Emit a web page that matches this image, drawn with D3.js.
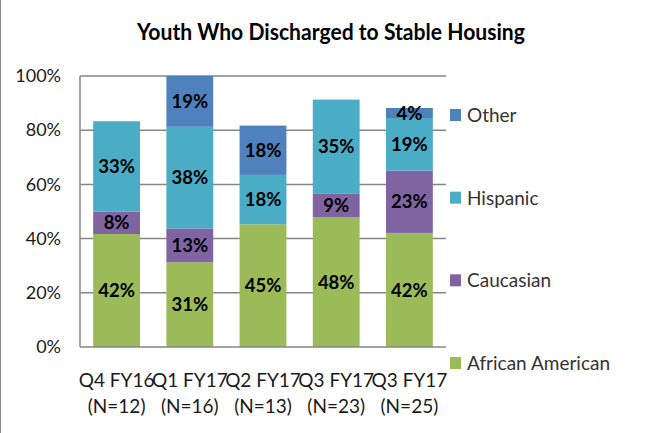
<!DOCTYPE html>
<html>
<head>
<meta charset="utf-8">
<script src="https://cdn.jsdelivr.net/npm/d3@7"></script>
<style>
  body { margin: 0; background: #fff; }
  svg { display: block; }
  text { font-family: Lato, "Open Sans", sans-serif; }
</style>
</head>
<body>
<svg id="chart" width="645" height="433"></svg>
<script>
// chart data
const categories = ["Q4 FY16", "Q1 FY17", "Q2 FY17", "Q3 FY17", "Q3 FY17"];
const nLabels = ["(N=12)", "(N=16)", "(N=13)", "(N=23)", "(N=25)"];
const seriesNames = ["African American", "Caucasian", "Hispanic", "Other"];
const africanAmerican = [41.7, 31.25, 45.3, 47.8, 42.1];
const caucasian = [8.3, 12.5, 0, 8.7, 23.0];
const hispanic = [33.3, 37.5, 18.2, 34.8, 19.4];
const other = [0, 18.75, 18.2, 0, 3.7];
const yTicks = [0, 20, 40, 60, 80, 100];

const colors = {
    "African American": "#9bbb59",
    "Caucasian": "#8064a2",
    "Hispanic": "#4bacc6",
    "Other": "#4f81bd"
};

const rows = categories.map((c, i) => ({
    idx: i,
    cat: c,
    "African American": africanAmerican[i],
    "Caucasian": caucasian[i],
    "Hispanic": hispanic[i],
    "Other": other[i]
}));

const svg = d3.select("#chart");
const plotLeft = 80, plotRight = 446, plotTop = 76, plotBottom = 347;

// the original font (Calibri) is narrower than Lato, squeeze some texts a bit
function condense(sel, factor) {
    sel.each(function() {
        const len = this.getComputedTextLength();
        d3.select(this)
            .attr("textLength", len * factor)
            .attr("lengthAdjust", "spacingAndGlyphs");
    });
}

// outer chart border (only the left edge shows in the picture)
svg.append("line")
    .attr("x1", 0.5).attr("x2", 0.5)
    .attr("y1", 0).attr("y2", 433)
    .attr("stroke", "#8c8c8c").attr("stroke-width", 1);

const title = svg.append("text")
    .attr("x", 331).attr("y", 40)
    .attr("text-anchor", "middle")
    .attr("font-size", "22px")
    .attr("font-weight", "bold")
    .attr("fill", "#000")
    .text("Youth Who Discharged to Stable Housing");
condense(title, 0.96);

const x = d3.scaleBand()
    .domain(d3.range(categories.length))
    .range([plotLeft, plotRight])
    .paddingInner(0.36)
    .paddingOuter(0.18);

const y = d3.scaleLinear().domain([0, 100]).range([plotBottom, plotTop]);

// gridlines
svg.append("g")
    .selectAll("line")
    .data(yTicks.filter(t => t > 0))
    .join("line")
    .attr("x1", plotLeft).attr("x2", plotRight)
    .attr("y1", d => y(d)).attr("y2", d => y(d))
    .attr("stroke", "#868686").attr("stroke-width", 1.5);

// y axis labels
const yAxis = svg.append("g")
    .attr("transform", `translate(${plotLeft},0)`)
    .call(d3.axisLeft(y).tickValues(yTicks).tickFormat(d => d + "%").tickSize(0).tickPadding(19));
yAxis.select(".domain").remove();
yAxis.selectAll("text")
    .attr("font-size", "18px")
    .attr("font-family", "Lato, sans-serif")
    .attr("fill", "#1a1a1a");

const stack = d3.stack().keys(seriesNames);
const stacked = stack(rows);

const layers = svg.append("g")
    .selectAll("g")
    .data(stacked)
    .join("g")
    .attr("fill", d => colors[d.key]);

layers.selectAll("rect")
    .data(d => d)
    .join("rect")
    .attr("x", d => x(d.data.idx))
    .attr("width", x.bandwidth())
    .attr("y", d => y(d[1]))
    .attr("height", d => y(d[0]) - y(d[1]));

// data labels
layers.selectAll("text")
    .data(d => d.filter(p => p[1] - p[0] > 0))
    .join("text")
    .attr("x", d => x(d.data.idx) + x.bandwidth() / 2)
    .attr("y", d => (y(d[0]) + y(d[1])) / 2)
    .attr("dy", "0.36em")
    .attr("text-anchor", "middle")
    .attr("font-size", "18.5px")
    .attr("font-weight", "bold")
    .attr("fill", "#000")
    .text(d => Math.round(d[1] - d[0]) + "%");

// axis lines
svg.append("line")
    .attr("x1", plotLeft).attr("x2", plotLeft)
    .attr("y1", plotTop).attr("y2", plotBottom)
    .attr("stroke", "#868686").attr("stroke-width", 1.5);
svg.append("line")
    .attr("x1", plotLeft).attr("x2", plotRight)
    .attr("y1", plotBottom).attr("y2", plotBottom)
    .attr("stroke", "#868686").attr("stroke-width", 1.5);

// category labels
const xl = svg.append("g")
    .selectAll("text")
    .data(rows)
    .join("text")
    .attr("text-anchor", "middle")
    .attr("font-size", "19px")
    .attr("fill", "#1a1a1a")
    .attr("transform", d => `translate(${x(d.idx) + x.bandwidth() / 2},0)`);
xl.append("tspan").attr("x", 0).attr("y", 387).text(d => d.cat);
xl.append("tspan").attr("x", 0).attr("y", 413).text(d => nLabels[d.idx]);

// legend
const legendY = d3.scalePoint().domain(seriesNames.slice().reverse()).range([115, 363]);
const legend = svg.append("g")
    .selectAll("g")
    .data(seriesNames)
    .join("g")
    .attr("transform", d => `translate(450,${legendY(d)})`);
legend.append("rect")
    .attr("x", 0).attr("y", -6)
    .attr("width", 11).attr("height", 12)
    .attr("fill", d => colors[d]);
legend.append("text")
    .attr("x", 17).attr("dy", "0.36em")
    .attr("font-size", "19px")
    .attr("fill", "#333")
    .text(d => d);
</script>
</body>
</html>
